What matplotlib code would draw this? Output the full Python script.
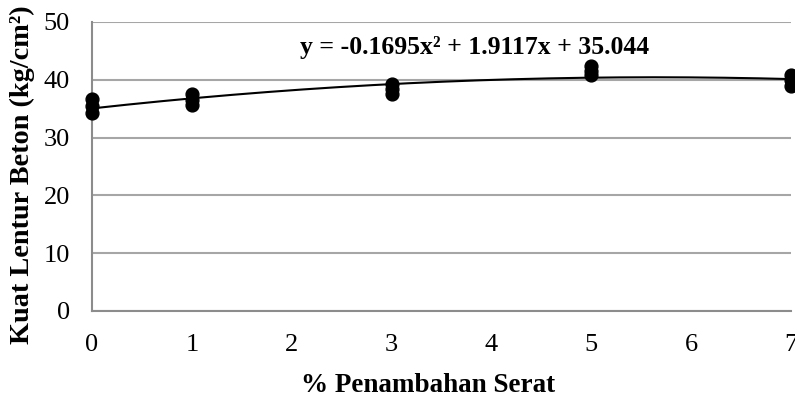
import matplotlib
matplotlib.use("Agg")
import matplotlib.pyplot as plt
import numpy as np

plt.rcParams['font.family'] = ['Liberation Serif', 'DejaVu Serif']

# Data
fiber_pct = [0, 0, 0, 1, 1, 1, 3, 3, 3, 5, 5, 5, 7, 7, 7]
strength = [36.7, 35.5, 34.2, 37.5, 36.5, 35.7, 39.3, 38.4, 37.5,
            42.3, 41.5, 40.8, 40.8, 39.9, 39.0]
poly_coef = [-0.1695, 1.9117, 35.044]
x_ticks = [0, 1, 2, 3, 4, 5, 6, 7]
y_ticks = [0, 10, 20, 30, 40, 50]

fig = plt.figure(figsize=(7.95, 4.07), dpi=100)
ax = fig.add_axes([0.1157, 0.2359, 0.8793, 0.7101])

ax.set_xlim(0, 7)
ax.set_ylim(0, 50)
ax.set_xticks(x_ticks)
ax.set_yticks(y_ticks)

ax.grid(axis='y', color='#a6a6a6', linewidth=1.5, zorder=0)
for s in ['top', 'right']:
    ax.spines[s].set_visible(False)
for s in ['left', 'bottom']:
    ax.spines[s].set_color('#8c8c8c')
    ax.spines[s].set_linewidth(1.5)

ax.tick_params(length=0, labelsize=19, colors='black')
ax.tick_params(axis='x', pad=16.5)
ax.tick_params(axis='y', pad=16)

xs = np.linspace(0, 7, 200)
ax.plot(xs, np.polyval(poly_coef, xs), color='black', linewidth=1.5, zorder=3)
ax.scatter(fiber_pct, strength, s=85, color='black', zorder=4, clip_on=False)

fig.text(0.377, 0.884, "y = {:.4f}x² + {:.4f}x + {:.3f}".format(*poly_coef),
         ha='left', va='center', fontsize=18.5, fontweight='bold')

fig.text(0.028, 1 - 175 / 407, "Kuat Lentur Beton (kg/cm²)", rotation=90,
         ha='center', va='center', fontsize=20.3, fontweight='bold')
fig.text(0.538, 0.054, "% Penambahan Serat", ha='center', va='center',
         fontsize=19.5, fontweight='bold')

fig.savefig("out.png", dpi=100)
